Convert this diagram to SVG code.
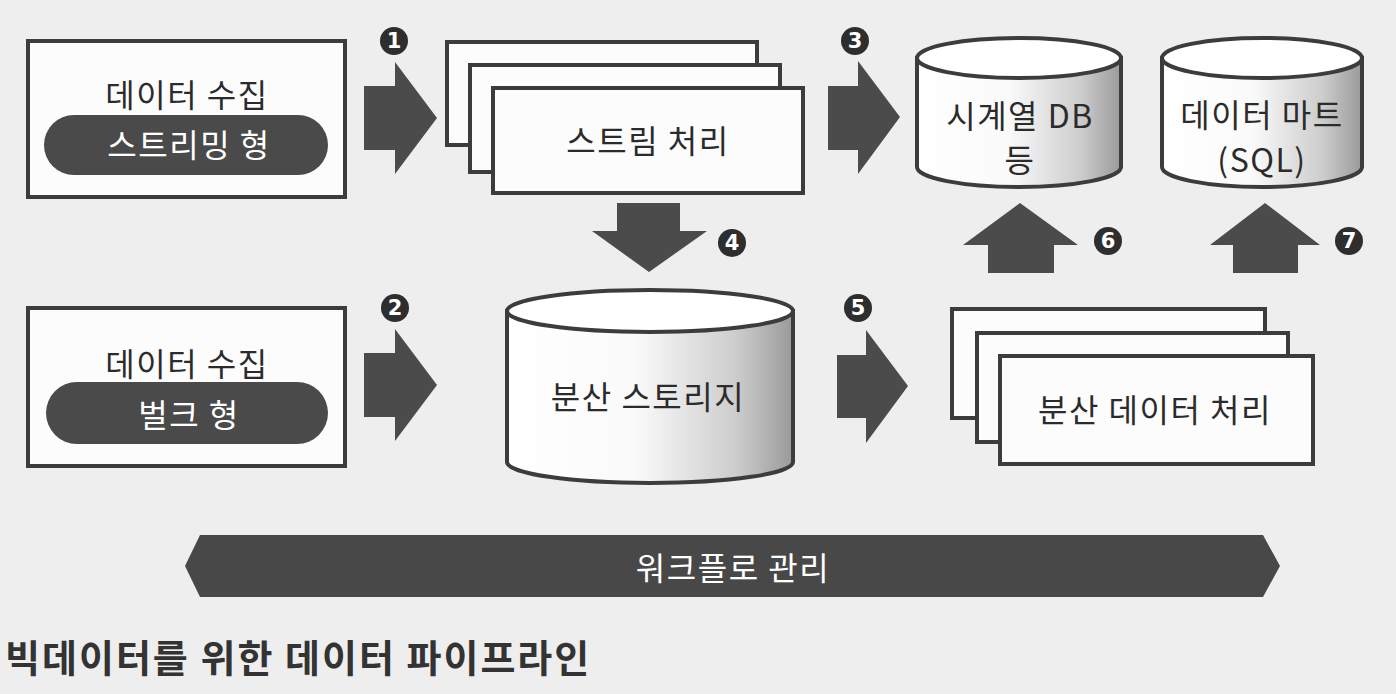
<svg xmlns="http://www.w3.org/2000/svg" width="1396" height="694" viewBox="0 0 1396 694">
<defs>
<linearGradient id="cyl" x1="0" y1="0" x2="1" y2="0">
<stop offset="0" stop-color="#ffffff"/>
<stop offset="0.45" stop-color="#fafafa"/>
<stop offset="0.8" stop-color="#cdcdcd"/>
<stop offset="1" stop-color="#9a9a9a"/>
</linearGradient>
<style>
.t{font-family:"Noto Sans CJK KR","Noto Sans",sans-serif;font-size:32px;letter-spacing:1.5px;fill:#2b2b2b;text-anchor:middle;dominant-baseline:central}
.w{fill:#ffffff}
.box{fill:#fcfcfc;stroke:#3c3c3c;stroke-width:4}
.pill{fill:#4a4a4a}
.arr{fill:#4b4b4b}
.cyl{fill:url(#cyl);stroke:#3c3c3c;stroke-width:4}
.top{fill:#ffffff;stroke:#3c3c3c;stroke-width:4}
.num circle{fill:#2e2e2e}
.num text{font-family:"DejaVu Sans","Liberation Sans",sans-serif;font-size:21px;font-weight:bold;fill:#fff;text-anchor:middle;dominant-baseline:central}
</style>
</defs>
<rect width="1396" height="694" fill="#eeeeee"/>

<g id="connectors">
<polygon class="arr" points="364,86 395,86 395,62 437,118 395,174 395,150 364,150"/>
<polygon class="arr" points="364,353 395,353 395,329 437,385 395,441 395,417 364,417"/>
<polygon class="arr" points="828,86 858,86 858,61 900,117 858,174 858,150 828,150"/>
<polygon class="arr" points="837,355 866,355 866,330 908,386 866,443 866,418 837,418"/>
<polygon class="arr" points="617,203 680,203 680,231 707,231 649,272 592,231 617,231"/>
<polygon class="arr" points="988,273 1054,273 1054,245 1078,245 1020,203 963,245 988,245"/>
<polygon class="arr" points="1233,273 1298,273 1298,245 1320,245 1265,203 1210,245 1233,245"/>
<g class="num">
<circle cx="394" cy="41" r="14"/><text x="394" y="41">1</text>
<circle cx="395" cy="308" r="14"/><text x="395" y="308">2</text>
<circle cx="855" cy="41" r="14"/><text x="855" y="41">3</text>
<circle cx="732" cy="243" r="14"/><text x="732" y="243">4</text>
<circle cx="858" cy="308" r="14"/><text x="858" y="308">5</text>
<circle cx="1108" cy="241" r="14"/><text x="1108" y="241">6</text>
<circle cx="1349" cy="241" r="14"/><text x="1349" y="241">7</text>
</g>
</g>

<g id="collect-stream">
<rect class="box" x="28" y="41" width="317" height="156"/>
<text class="t" x="187" y="93">데이터 수집</text>
<rect class="pill" x="44" y="115" width="284" height="60" rx="30"/>
<text class="t w" x="189" y="143">스트리밍 형</text>
</g>

<g id="collect-bulk">
<rect class="box" x="28" y="308" width="317" height="158"/>
<text class="t" x="187" y="362">데이터 수집</text>
<rect class="pill" x="46" y="382" width="282" height="62" rx="31"/>
<text class="t w" x="189" y="413">벌크 형</text>
</g>

<g id="stream-processing">
<rect class="box" x="447" y="42" width="310" height="103"/>
<rect class="box" x="470" y="65" width="310" height="107"/>
<rect class="box" x="493" y="88" width="310" height="105"/>
<text class="t" x="648" y="139">스트림 처리</text>
</g>

<g id="timeseries-db">
<path class="cyl" d="M917,58 L917,167 A102,20 0 0 0 1121,167 L1121,58 Z"/>
<ellipse class="top" cx="1019" cy="58" rx="102" ry="20"/>
<text class="t" x="1020" y="114">시계열 DB</text>
<text class="t" x="1020" y="158">등</text>
</g>

<g id="data-mart">
<path class="cyl" d="M1162,58 L1162,167 A100,20 0 0 0 1362,167 L1362,58 Z"/>
<ellipse class="top" cx="1262" cy="58" rx="100" ry="20"/>
<text class="t" x="1262" y="113">데이터 마트</text>
<text class="t" x="1262" y="158">(SQL)</text>
</g>

<g id="distributed-storage">
<path class="cyl" d="M507,311 L507,462 A143,21 0 0 0 793,462 L793,311 Z"/>
<ellipse class="top" cx="650" cy="311" rx="143" ry="21"/>
<text class="t" x="648" y="395">분산 스토리지</text>
</g>

<g id="distributed-processing">
<rect class="box" x="952" y="309" width="313" height="109"/>
<rect class="box" x="977" y="333" width="311" height="109"/>
<rect class="box" x="1000" y="356" width="313" height="108"/>
<text class="t" x="1155" y="408">분산 데이터 처리</text>
</g>

<g id="workflow">
<polygon fill="#484848" points="185,566 200,535 1263,535 1280,566 1263,597 200,597"/>
<text class="t w" x="733" y="566">워크플로 관리</text>
</g>

<text x="5" y="655" style="font-family:'Noto Sans CJK KR','Noto Sans',sans-serif;font-size:38px;letter-spacing:2px;font-weight:bold;fill:#333;dominant-baseline:central">빅데이터를 위한 데이터 파이프라인</text>
</svg>
